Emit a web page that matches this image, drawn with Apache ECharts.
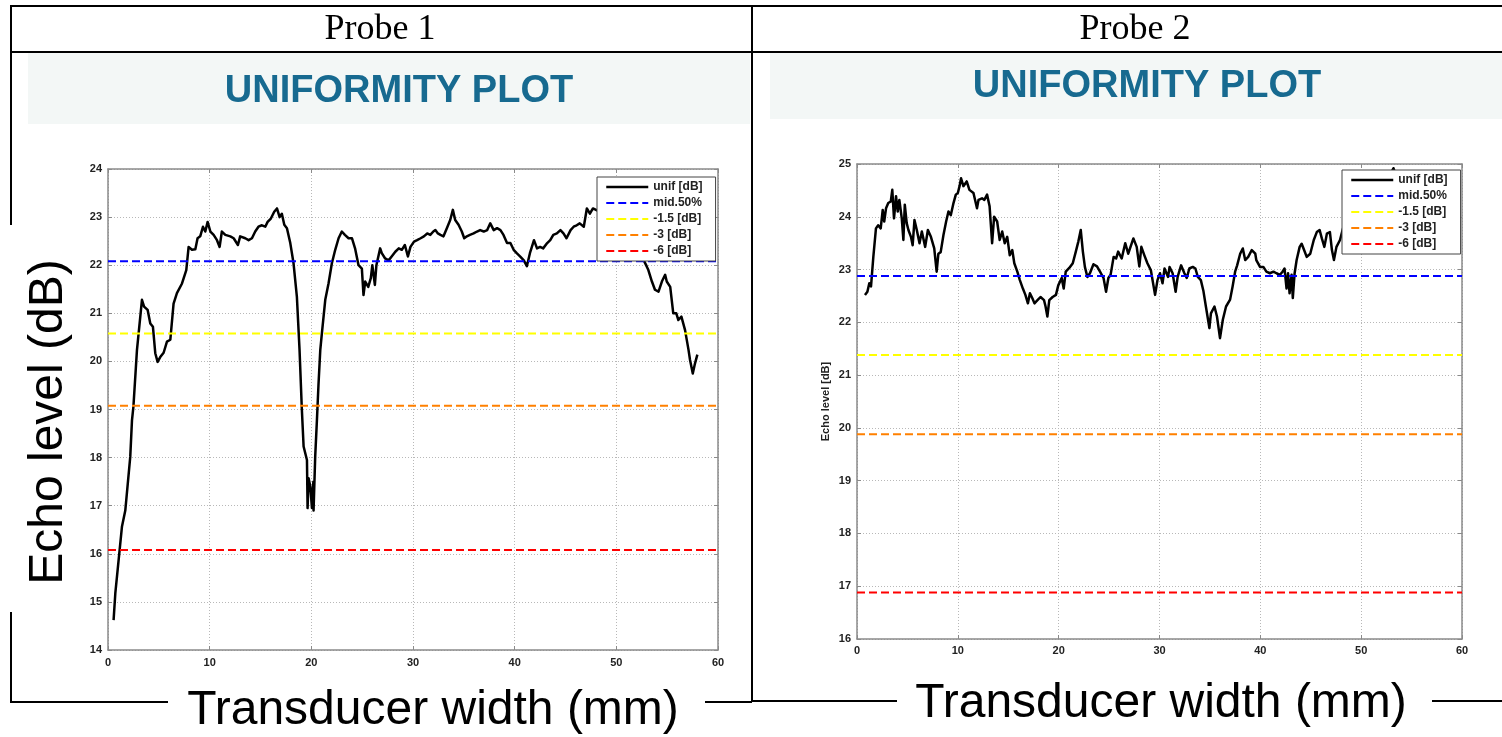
<!DOCTYPE html>
<html>
<head>
<meta charset="utf-8">
<script src="https://cdn.jsdelivr.net/npm/echarts/dist/echarts.min.js"></script>
<style>
  html, body { margin: 0; padding: 0; background: #fff; }
  #main { width: 1502px; height: 737px; }
</style>
</head>
<body>
<div id="main"></div>
<script>
// Probe 1: echo level along the transducer width
const probe1Width = [0.55, 0.72, 1.37, 1.70, 2.19, 2.36, 2.50, 2.85, 3.34, 3.55, 3.90, 4.16, 4.42, 4.65, 4.88, 5.14, 5.47, 5.80, 6.13, 6.45,
  6.78, 7.28, 7.70, 7.93, 8.26, 8.59, 8.81, 9.07, 9.34, 9.57, 9.80, 10.07, 10.39, 10.72, 10.98, 11.20, 11.54, 12.03, 12.36, 12.78,
  13.00, 13.50, 13.83, 14.16, 14.48, 14.80, 15.14, 15.47, 15.70, 16.02, 16.35, 16.62, 16.88, 17.10, 17.34, 17.60, 17.93, 18.25, 18.58, 18.84,
  19.07, 19.24, 19.57, 19.63, 19.73, 19.90, 20.06, 20.20, 20.22, 20.38, 20.55, 20.70, 20.88, 21.04, 21.37, 21.69, 22.02, 22.35, 22.68, 23.00,
  23.30, 23.66, 24.00, 24.30, 24.64, 24.97, 25.13, 25.30, 25.60, 25.85, 26.00, 26.25, 26.40, 26.77, 26.93, 27.26, 27.60, 27.90, 28.26, 28.60,
  28.90, 29.20, 29.50, 29.75, 30.10, 30.40, 30.75, 31.07, 31.40, 31.70, 32.00, 32.20, 32.45, 32.70, 33.00, 33.33, 33.66, 33.92, 34.15, 34.48,
  34.80, 35.04, 35.30, 35.60, 35.96, 36.30, 36.60, 36.96, 37.30, 37.60, 37.94, 38.27, 38.60, 38.90, 39.25, 39.58, 39.90, 40.20, 40.55, 40.90,
  41.20, 41.50, 41.90, 42.20, 42.50, 42.80, 43.20, 43.50, 43.80, 44.15, 44.50, 44.80, 45.10, 45.50, 45.80, 46.10, 46.40, 46.80, 47.10, 47.40,
  47.70, 48.30, 49.00, 49.80, 50.60, 51.40, 52.20, 52.70, 53.00, 53.15, 53.50, 53.80, 54.15, 54.48, 54.80, 54.96, 55.30, 55.60, 55.90, 56.10,
  56.40, 56.76, 57.10, 57.25, 57.52, 57.74, 57.97];
const probe1Level = [14.62, 15.18, 16.56, 16.90, 18.02, 18.78, 19.06, 20.24, 21.28, 21.14, 21.07, 20.79, 20.72, 20.17, 19.99, 20.09, 20.18, 20.41, 20.45, 21.20,
  21.42, 21.62, 21.90, 22.38, 22.32, 22.33, 22.56, 22.60, 22.80, 22.70, 22.90, 22.70, 22.63, 22.52, 22.38, 22.70, 22.63, 22.60, 22.56, 22.42,
  22.60, 22.56, 22.52, 22.56, 22.70, 22.80, 22.83, 22.80, 22.90, 22.97, 23.11, 23.18, 23.00, 23.07, 22.84, 22.77, 22.46, 22.04, 21.34, 20.24,
  18.99, 18.23, 17.95, 16.95, 17.57, 17.40, 16.95, 17.50, 16.90, 18.02, 18.78, 19.50, 20.24, 20.59, 21.28, 21.62, 22.04, 22.32, 22.56, 22.70,
  22.63, 22.56, 22.56, 22.35, 22.00, 21.93, 21.38, 21.66, 21.55, 21.73, 22.00, 21.59, 22.00, 22.35, 22.25, 22.14, 22.10, 22.18, 22.28, 22.35,
  22.32, 22.42, 22.18, 22.38, 22.49, 22.52, 22.56, 22.60, 22.66, 22.63, 22.70, 22.73, 22.66, 22.63, 22.60, 22.77, 22.94, 23.15, 22.94, 22.84,
  22.70, 22.56, 22.60, 22.63, 22.66, 22.70, 22.73, 22.70, 22.73, 22.87, 22.73, 22.77, 22.73, 22.63, 22.46, 22.46, 22.32, 22.25, 22.18, 22.10,
  21.98, 22.25, 22.52, 22.35, 22.38, 22.35, 22.46, 22.52, 22.63, 22.66, 22.73, 22.66, 22.56, 22.73, 22.80, 22.83, 22.87, 22.80, 23.18, 23.07,
  23.18, 23.12, 23.05, 22.95, 22.80, 22.60, 22.30, 22.10, 21.97, 21.90, 21.66, 21.49, 21.45, 21.66, 21.80, 21.66, 21.55, 21.00, 21.00, 20.86,
  20.93, 20.65, 20.24, 20.03, 19.75, 19.96, 20.14];

// Probe 2: echo level along the transducer width
const probe2Width = [0.79, 1.03, 1.22, 1.39, 1.62, 1.88, 2.10, 2.35, 2.55, 2.70, 2.88, 3.10, 3.35, 3.50, 3.67, 3.87, 4.04, 4.20, 4.44, 4.60,
  4.74, 4.93, 5.10, 5.35, 5.52, 5.70, 5.93, 6.20, 6.43, 6.76, 7.03, 7.33, 7.66, 7.90, 8.07, 8.30, 8.57, 8.84, 9.07, 9.30,
  9.57, 9.80, 10.00, 10.17, 10.32, 10.55, 10.88, 11.15, 11.55, 11.90, 12.05, 12.40, 12.63, 12.90, 13.15, 13.40, 13.60, 13.90, 14.15, 14.40,
  14.65, 14.90, 15.15, 15.40, 15.60, 15.90, 16.15, 16.45, 16.70, 16.95, 17.15, 17.38, 17.60, 17.90, 18.20, 18.55, 18.70, 18.88, 19.07, 19.40,
  19.73, 19.96, 20.30, 20.50, 20.70, 21.05, 21.40, 21.70, 21.95, 22.19, 22.40, 22.60, 22.85, 23.10, 23.45, 23.80, 24.10, 24.45, 24.70, 24.93,
  25.15, 25.45, 25.70, 25.90, 26.25, 26.60, 26.90, 27.41, 27.74, 28.00, 28.20, 28.50, 28.80, 29.14, 29.56, 29.80, 30.05, 30.30, 30.50, 30.85,
  31.00, 31.30, 31.60, 31.80, 32.14, 32.47, 32.70, 32.96, 33.30, 33.56, 33.80, 34.10, 34.35, 34.60, 34.95, 35.10, 35.45, 35.70, 36.00, 36.28,
  36.60, 37.00, 37.25, 37.50, 37.70, 38.00, 38.26, 38.50, 38.80, 39.15, 39.50, 39.60, 39.97, 40.30, 40.60, 40.95, 41.30, 41.60, 41.95, 42.20,
  42.40, 42.60, 42.75, 42.90, 43.10, 43.22, 43.40, 43.60, 43.90, 44.10, 44.34, 44.60, 44.95, 45.30, 45.60, 45.88, 46.10, 46.35, 46.60, 46.90,
  47.10, 47.30, 47.55, 47.90, 48.20, 48.80, 49.60, 50.40, 51.20, 52.00, 52.60, 53.20, 53.80, 54.60, 55.50, 56.30, 57.20, 58.00];
const probe2Level = [22.52, 22.58, 22.74, 22.68, 23.24, 23.78, 23.84, 23.78, 24.13, 23.91, 24.16, 24.26, 24.29, 24.51, 23.97, 24.39, 24.10, 24.32, 23.97, 23.56,
  24.23, 23.88, 23.75, 23.62, 23.46, 23.94, 23.75, 23.50, 23.72, 23.43, 23.75, 23.62, 23.40, 22.96, 23.30, 23.33, 23.65, 23.91, 24.10, 24.03,
  24.26, 24.42, 24.45, 24.58, 24.73, 24.58, 24.67, 24.51, 24.45, 24.16, 24.32, 24.35, 24.32, 24.42, 24.20, 23.50, 24.00, 23.91, 23.56, 23.72,
  23.50, 23.62, 23.27, 23.37, 23.12, 22.96, 22.80, 22.64, 22.52, 22.36, 22.55, 22.46, 22.36, 22.42, 22.48, 22.42, 22.30, 22.11, 22.42, 22.48,
  22.52, 22.70, 22.84, 22.64, 22.96, 23.03, 23.12, 23.34, 23.53, 23.75, 23.34, 23.05, 22.86, 22.93, 23.10, 23.06, 22.96, 22.84, 22.58, 22.84,
  22.90, 23.24, 23.21, 23.34, 23.21, 23.50, 23.30, 23.59, 23.43, 23.06, 23.43, 23.27, 23.12, 22.99, 22.52, 22.80, 22.93, 22.74, 23.02, 22.86,
  23.05, 22.93, 22.58, 22.86, 23.08, 22.93, 22.84, 23.02, 23.05, 23.02, 22.86, 22.80, 22.60, 22.30, 21.89, 22.17, 22.30, 22.11, 21.70, 22.05,
  22.30, 22.43, 22.68, 22.96, 23.08, 23.30, 23.40, 23.18, 23.24, 23.37, 23.30, 23.18, 23.05, 23.05, 22.96, 22.93, 22.96, 22.93, 22.90, 22.96,
  23.02, 22.64, 22.93, 22.55, 22.90, 22.46, 22.93, 23.18, 23.43, 23.49, 23.37, 23.24, 23.30, 23.56, 23.71, 23.75, 23.59, 23.43, 23.68, 23.71,
  23.37, 23.18, 23.43, 23.56, 23.78, 23.90, 24.05, 24.20, 24.35, 24.50, 24.70, 24.92, 24.60, 24.40, 24.20, 24.00, 23.90, 23.80];

// Reference levels: mid 50 %, then -1.5, -3 and -6 dB below it
const levelNames = ['mid.50%', '-1.5 [dB]', '-3 [dB]', '-6 [dB]'];
const levelColors = ['#0000ff', '#ffff00', '#ff8000', '#ff0000'];
const probe1Levels = [22.08, 20.58, 19.08, 16.08];
const probe2Levels = [22.88, 21.38, 19.88, 16.88];

const xTicks = { min: 0, max: 60, interval: 10 };
const probe1YRange = { min: 14, max: 24, interval: 1 };
const probe2YRange = { min: 16, max: 25, interval: 1 };

const SANS = '"Liberation Sans", Arial, sans-serif';
const SERIF = '"Liberation Serif", "Times New Roman", serif';
const AXIS_GRAY = '#8a8a8a';

function mainXAxis(gridIndex, labelMargin) {
  return {
    type: 'value', gridIndex, position: 'bottom',
    min: xTicks.min, max: xTicks.max, interval: xTicks.interval,
    axisLine: { show: true, onZero: false, lineStyle: { color: AXIS_GRAY, width: 1.5 } },
    axisTick: { show: true, inside: true, length: 4, lineStyle: { color: AXIS_GRAY } },
    axisLabel: { color: '#222', fontFamily: SANS, fontWeight: 'bold', fontSize: 11, margin: labelMargin },
    splitLine: { show: true, lineStyle: { color: '#b8b8b8', type: [1, 2], width: 1 } }
  };
}
function boxXAxis(gridIndex) {
  return {
    type: 'value', gridIndex, position: 'top',
    min: xTicks.min, max: xTicks.max, interval: xTicks.interval,
    axisLine: { show: true, onZero: false, lineStyle: { color: AXIS_GRAY, width: 1.5 } },
    axisTick: { show: true, inside: true, length: 4, lineStyle: { color: AXIS_GRAY } },
    axisLabel: { show: false }, splitLine: { show: false }
  };
}
function mainYAxis(gridIndex, range, extra) {
  return Object.assign({
    type: 'value', gridIndex, position: 'left',
    min: range.min, max: range.max, interval: range.interval,
    axisLine: { show: true, onZero: false, lineStyle: { color: AXIS_GRAY, width: 1.5 } },
    axisTick: { show: true, inside: true, length: 4, lineStyle: { color: AXIS_GRAY } },
    axisLabel: { color: '#222', fontFamily: SANS, fontWeight: 'bold', fontSize: 11, margin: 6 },
    splitLine: { show: true, lineStyle: { color: '#b8b8b8', type: [1, 2], width: 1 } }
  }, extra || {});
}
function boxYAxis(gridIndex, range) {
  return {
    type: 'value', gridIndex, position: 'right',
    min: range.min, max: range.max, interval: range.interval,
    axisLine: { show: true, onZero: false, lineStyle: { color: AXIS_GRAY, width: 1.5 } },
    axisTick: { show: true, inside: true, length: 4, lineStyle: { color: AXIS_GRAY } },
    axisLabel: { show: false }, splitLine: { show: false }
  };
}

function probeSeries(widths, levels, refLevels, xAxisIndex, yAxisIndex) {
  const out = refLevels.map((v, i) => ({
    name: levelNames[i], type: 'line', xAxisIndex, yAxisIndex,
    data: [[xTicks.min, v], [xTicks.max, v]],
    symbol: 'none', silent: true, z: 3,
    lineStyle: { color: levelColors[i], width: 2, type: [8, 4] },
    itemStyle: { color: levelColors[i] }
  }));
  out.unshift({
    name: 'unif [dB]', type: 'line', xAxisIndex, yAxisIndex,
    data: widths.map((x, i) => [x, levels[i]]),
    symbol: 'none', silent: true, z: 2,
    lineStyle: { color: '#000', width: 2.5, join: 'round' },
    itemStyle: { color: '#000' }
  });
  return out;
}

function legendAt(left, top) {
  return {
    left, top, orient: 'vertical', selectedMode: false,
    padding: [4, 13, 4, 8], itemGap: 4, itemWidth: 42, itemHeight: 14,
    backgroundColor: '#fff', borderColor: '#444', borderWidth: 1, borderRadius: 0,
    // only the line sample is shown, no marker on it
    itemStyle: { opacity: 0, borderWidth: 0 },
    lineStyle: { width: 'inherit', type: 'inherit' },
    textStyle: { color: '#222', fontFamily: SANS, fontWeight: 'bold', fontSize: 12 },
    data: ['unif [dB]'].concat(levelNames), z: 10
  };
}

function line(x1, y1, x2, y2) {
  return { type: 'line', shape: { x1, y1, x2, y2 }, style: { stroke: '#000', lineWidth: 2 }, z: 5 };
}
function text(x, y, str, font, fill, extra) {
  return Object.assign({
    type: 'text', x, y, z: 6,
    style: { text: str, font, fill, textAlign: 'center', textVerticalAlign: 'middle', align: 'center', verticalAlign: 'middle' }
  }, extra || {});
}

const chart = echarts.init(document.getElementById('main'), null, { renderer: 'canvas' });
chart.setOption({
  backgroundColor: '#fff',
  animation: false,
  grid: [
    { left: 108, top: 169, width: 610, height: 481, outerBoundsMode: 'none', containLabel: false },
    { left: 857, top: 164, width: 605, height: 475, outerBoundsMode: 'none', containLabel: false }
  ],
  xAxis: [mainXAxis(0, 7), boxXAxis(0), mainXAxis(1, 6), boxXAxis(1)],
  yAxis: [
    mainYAxis(0, probe1YRange),
    boxYAxis(0, probe1YRange),
    mainYAxis(1, probe2YRange, {
      name: 'Echo level [dB]', nameLocation: 'middle', nameRotate: 90, nameGap: 26,
      nameTextStyle: { color: '#222', fontFamily: SANS, fontWeight: 'bold', fontSize: 11 }
    }),
    boxYAxis(1, probe2YRange)
  ],
  legend: [legendAt(597, 177), legendAt(1342, 170)],
  series: probeSeries(probe1Width, probe1Level, probe1Levels, 0, 0)
    .concat(probeSeries(probe2Width, probe2Level, probe2Levels, 2, 2)),
  graphic: { elements: [
    // title bands
    { type: 'rect', shape: { x: 28, y: 53, width: 722, height: 71 }, style: { fill: '#f3f7f6' }, z: 1 },
    { type: 'rect', shape: { x: 770, y: 53, width: 732, height: 66 }, style: { fill: '#f3f7f6' }, z: 1 },
    text(399, 92, 'UNIFORMITY PLOT', 'bold 38px ' + SANS, '#176a90'),
    text(1147, 87, 'UNIFORMITY PLOT', 'bold 38px ' + SANS, '#176a90'),
    // table frame
    line(10, 6, 1502, 6),
    line(10, 52, 1502, 52),
    line(11, 5, 11, 225),
    line(11, 612, 11, 703),
    line(752, 5, 752, 702),
    line(10, 702, 168, 702),
    line(705, 702, 752, 702),
    line(752, 701, 897, 701),
    line(1432, 701, 1502, 701),
    // header cells
    text(380, 30, 'Probe 1', '36px ' + SERIF, '#000'),
    text(1135, 30, 'Probe 2', '36px ' + SERIF, '#000'),
    // outer axis captions
    text(49, 422, 'Echo level (dB)', '48px ' + SANS, '#000', { rotation: Math.PI / 2 }),
    text(433, 711, 'Transducer width (mm)', '48px ' + SANS, '#000'),
    text(1161, 704, 'Transducer width (mm)', '48px ' + SANS, '#000')
  ] }
});
</script>
</body>
</html>
